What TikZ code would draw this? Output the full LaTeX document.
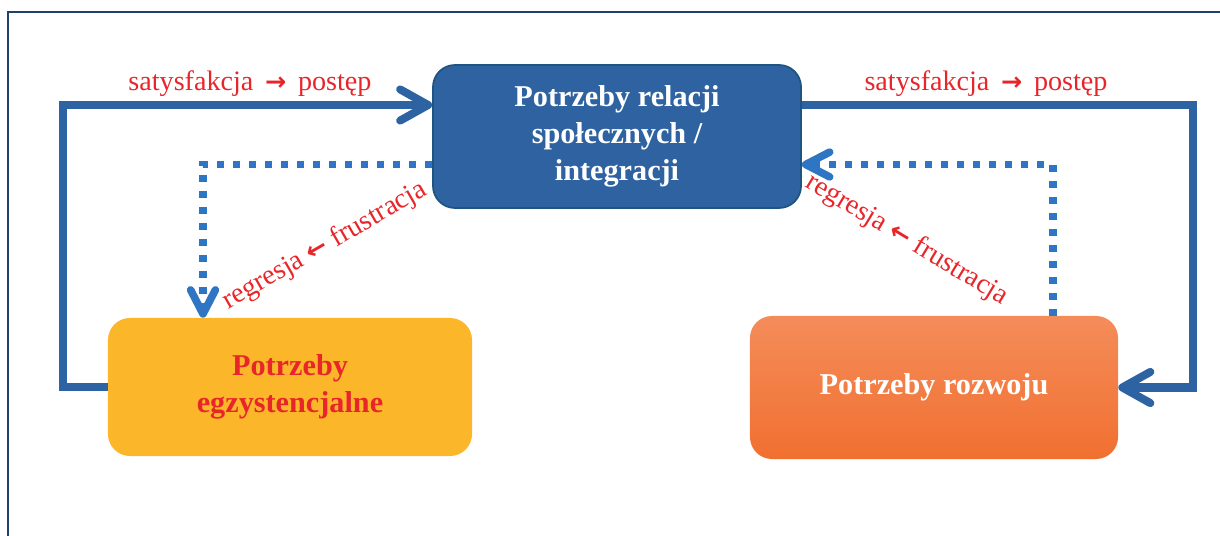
\documentclass[tikz,border=0pt]{standalone}
\usepackage{fontspec}
\setmainfont{Liberation Serif}
\newfontfamily\arrowfont{DejaVu Sans}
\usepackage{tikz}
\usetikzlibrary{arrows.meta}
\tikzset{>={Straight Barb[length=0.7cm,width=0.78cm,round]}}
\definecolor{boxblue}{RGB}{46,98,160}
\definecolor{boxedge}{RGB}{30,84,130}
\definecolor{lineblue}{RGB}{45,99,163}
\definecolor{dotblue}{RGB}{46,117,196}
\definecolor{labelred}{RGB}{232,38,42}
\definecolor{needyellow}{RGB}{251,182,42}
\definecolor{orangetop}{RGB}{244,140,90}
\definecolor{orangebot}{RGB}{241,112,48}
\definecolor{frameblue}{RGB}{31,63,110}
\newcommand\rarr{{\arrowfont\bfseries\fontsize{18}{18}\selectfont →}}
\newcommand\larr{{\arrowfont\bfseries\fontsize{18}{18}\selectfont ←}}

\begin{document}
\begin{tikzpicture}[x=0.025cm,y=-0.025cm,
    needbox/.style={rounded corners=0.55cm,minimum width=9.2cm,minimum height=3.575cm,
        align=center,font=\fontsize{21.5}{26.5}\selectfont\bfseries},
    flow/.style={->,draw=lineblue,line width=0.2cm},
    back/.style={->,draw=dotblue,line width=0.19cm,dash pattern=on 0.17cm off 0.23cm,
        >={Straight Barb[length=0.6cm,width=0.62cm,round]}},
    lbl/.style={text=labelred,font=\fontsize{20}{24}\selectfont}]

    \useasboundingbox (0,0) rectangle (1220,536);

    % FRAME
    \draw[frameblue,line width=1.4pt] (8,536) -- (8,12) -- (1220,12);

    % BOXES
    \node[needbox,fill=boxblue,draw=boxedge,line width=1.2pt,text=white] (relacje) at (617,136.5)
        {Potrzeby relacji\\społecznych /\\integracji};
    \node[needbox,fill=needyellow,text=labelred,minimum width=9.1cm,minimum height=3.45cm] (egzyst) at (290,387)
        {Potrzeby\\egzystencjalne};
    \node[needbox,top color=orangetop,bottom color=orangebot,text=white] (rozwoj) at (934,387.5)
        {Potrzeby rozwoju};

    % COORDINATES
    \coordinate (L1) at (63,105);
    \coordinate (R1) at (1193,105);
    \coordinate (LD) at (203,164.5);
    \coordinate (RD) at (1053,164.5);

    % ARROWS
    \draw[flow] (egzyst.west) -| (L1) -- (L1 -| relacje.west);
    \draw[flow] (R1 -| relacje.east) -- (R1) |- (rozwoj.east);
    \draw[back] (LD -| relacje.west) -- (LD) -- (LD |- egzyst.north);
    \draw[back] (RD |- rozwoj.north) -- (RD) -- (RD -| relacje.east);

    % LABELS
    \node[lbl,anchor=base] (satL) at (250,91) {satysfakcja \,\rarr\, postęp};
    \node[lbl,anchor=base] (satR) at (986,91) {satysfakcja \,\rarr\, postęp};
    \node[lbl,rotate=30] (regL) at (325,246) {regresja \larr{} frustracja};
    \node[lbl,rotate=-31] (regR) at (907,240) {regresja \larr{} frustracja};

\end{tikzpicture}
\end{document}
